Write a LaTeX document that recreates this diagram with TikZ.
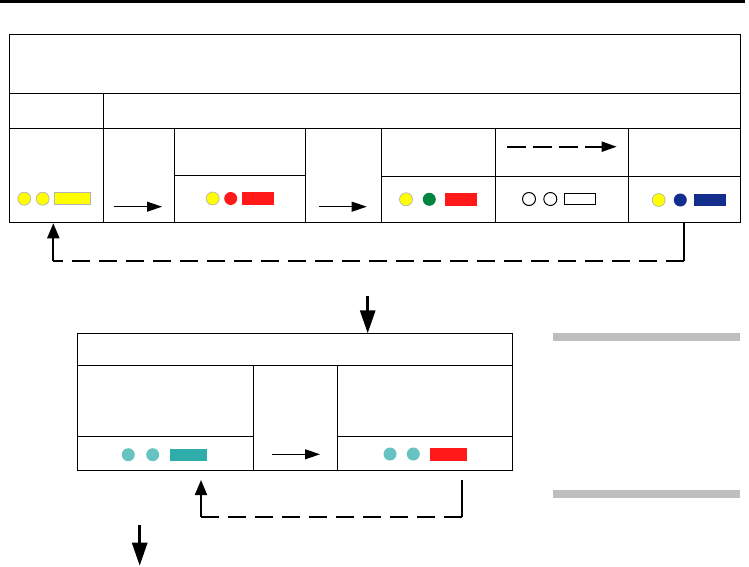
\documentclass[tikz,border=0pt]{standalone}
\usetikzlibrary{arrows.meta,fit}
\definecolor{cyel}{HTML}{FFFF00}
\definecolor{cred}{HTML}{FF1919}
\definecolor{cgreen}{HTML}{00843F}
\definecolor{cnavy}{HTML}{132E8C}
\definecolor{cteal}{HTML}{66C3C1}
\definecolor{ctealdark}{HTML}{2EADAB}
\definecolor{cbar}{HTML}{BEBEBE}
\definecolor{cedge}{HTML}{B4B4B4}
\begin{document}
\begin{tikzpicture}[x=1pt,y=-1pt,
  cell/.style={draw=black, line width=1pt, inner sep=0pt, fit={#1}},
  dot/.style={circle, minimum size=13pt, inner sep=0pt, fill=#1},
  edot/.style={dot=#1, draw=cedge, line width=0.7pt},
  odot/.style={circle, minimum size=13pt, inner sep=0pt, draw=black, line width=1pt},
  swatch/.style={inner sep=0pt, fit={#1}},
  thinarrow/.style={line width=1pt, -{Triangle[length=15pt,width=10pt]}},
  looparrow/.style={line width=2pt, -{Triangle[length=15pt,width=12pt]}},
  loopline/.style={line width=2pt},
  loopdash/.style={line width=2pt, dash pattern=on 18pt off 9pt},
  downarrow/.style={line width=3pt, -{Triangle[length=23pt,width=15pt]}},
  graybar/.style={fill=cbar, inner sep=0pt, fit={#1}}
]
\useasboundingbox (0,0) rectangle (749,567);

% top rule
\node[fill=black, inner sep=0pt, fit={(0,0) (745,3.5)}] (toprule) {};

% upper table
\node[cell={(9.3,34.3) (740.3,94)}] (title) {};
\node[cell={(9.3,94) (103.3,129)}] (r2a) {};
\node[cell={(103.3,94) (740.3,129)}] (r2b) {};
\node[cell={(9.3,129) (103.3,222)}] (c1) {};
\node[cell={(103.3,129) (174.3,222)}] (c2) {};
\node[cell={(174.3,129) (305.3,175.5)}] (c3top) {};
\node[cell={(174.3,175.5) (305.3,222)}] (c3bot) {};
\node[cell={(305.3,129) (381.7,222)}] (c4) {};
\node[cell={(381.7,129) (495.3,176)}] (c5top) {};
\node[cell={(381.7,176) (495.3,222)}] (c5bot) {};
\node[cell={(495.3,129) (628.3,176)}] (c6top) {};
\node[cell={(495.3,176) (628.3,222)}] (c6bot) {};
\node[cell={(628.3,129) (740.3,176)}] (c7top) {};
\node[cell={(628.3,176) (740.3,222)}] (c7bot) {};

% items in upper table
\node[edot=cyel] (y1a) at (24.3,198.7) {};
\node[edot=cyel] (y1b) at (42.7,198.7) {};
\node[swatch={(54.3,192.3) (90.7,204.3)}, fill=cyel, draw=cedge, line width=0.7pt] (y1r) {};

\node[edot=cyel] (y3a) at (212.7,198.5) {};
\node[dot=cred] (r3b) at (230.7,198.5) {};
\node[swatch={(242,192) (274,204.7)}, fill=cred] (r3r) {};

\node[edot=cyel] (y5a) at (406,199.3) {};
\node[dot=cgreen] (g5b) at (429.3,199.3) {};
\node[swatch={(445,193) (476.7,205.7)}, fill=cred] (r5r) {};

\node[odot] (o6a) at (529,199) {};
\node[odot] (o6b) at (550.3,199) {};
\node[swatch={(564.3,193.3) (595.7,204.3)}, draw=black, line width=1pt] (o6r) {};

\node[edot=cyel] (y7a) at (658.7,200) {};
\node[dot=cnavy] (n7b) at (680.3,200) {};
\node[swatch={(694,194) (726,206)}, fill=cnavy] (n7r) {};

% arrows inside upper table
\coordinate (a2s) at (114,206.7);
\coordinate (a2e) at (162,206.7);
\draw[thinarrow] (a2s) -- (a2e);
\coordinate (a4s) at (319,206.7);
\coordinate (a4e) at (366.7,206.7);
\draw[thinarrow] (a4s) -- (a4e);
\coordinate (d6s) at (507,146.7);
\coordinate (d6e) at (616.7,146.7);
\draw[line width=2pt, dash pattern=on 19pt off 7pt, -{Triangle[length=15pt,width=10pt]}] (d6s) -- (d6e);

% upper feedback loop
\coordinate (lpR) at (683.7,260.7);
\coordinate (lpL) at (53.3,260.7);
\coordinate (lpTip) at (53.3,223.3);
\draw[loopline] (c7bot.south -| lpR) -- (lpR);
\draw[loopdash] (lpR) -- (lpL);
\draw[looparrow] (lpL) -- (lpTip);

% down arrow to lower table
\coordinate (da1s) at (367.7,296);
\draw[downarrow] (da1s) -- (da1s |- 333.3,333.3);

% lower table
\node[cell={(77.3,333.3) (512.3,365.3)}] (ltitle) {};
\node[cell={(77.3,365.3) (253.3,436.3)}] (l1top) {};
\node[cell={(77.3,436.3) (253.3,470.3)}] (l1bot) {};
\node[cell={(253.3,365.3) (337.3,470.3)}] (l2) {};
\node[cell={(337.3,365.3) (512.3,436.3)}] (l3top) {};
\node[cell={(337.3,436.3) (512.3,470.3)}] (l3bot) {};

\node[dot=cteal] (t1a) at (128.3,454.7) {};
\node[dot=cteal] (t1b) at (152.7,454.7) {};
\node[swatch={(170,449) (207,460.7)}, fill=ctealdark] (t1r) {};

\node[dot=cteal] (t3a) at (390,454) {};
\node[dot=cteal] (t3b) at (413.3,454) {};
\node[swatch={(430,448) (467,460.7)}, fill=cred] (t3r) {};

\coordinate (la2s) at (272,454.3);
\coordinate (la2e) at (320,454.3);
\draw[thinarrow] (la2s) -- (la2e);

% lower feedback loop
\coordinate (llTop) at (462.3,480);
\coordinate (llR) at (462.3,516.7);
\coordinate (llL) at (201,516.7);
\coordinate (llTip) at (201,480);
\draw[loopline] (llTop) -- (llR);
\draw[loopdash] (llR) -- (llL);
\draw[looparrow] (llL) -- (llTip);

% bottom down arrow
\coordinate (da2s) at (139.7,525);
\coordinate (da2e) at (139.7,565.7);
\draw[downarrow] (da2s) -- (da2e);

% gray bars
\node[graybar={(552.7,333) (740,340.7)}] (bar1) {};
\node[graybar={(552.7,490) (740,497.7)}] (bar2) {};
\end{tikzpicture}
\end{document}
